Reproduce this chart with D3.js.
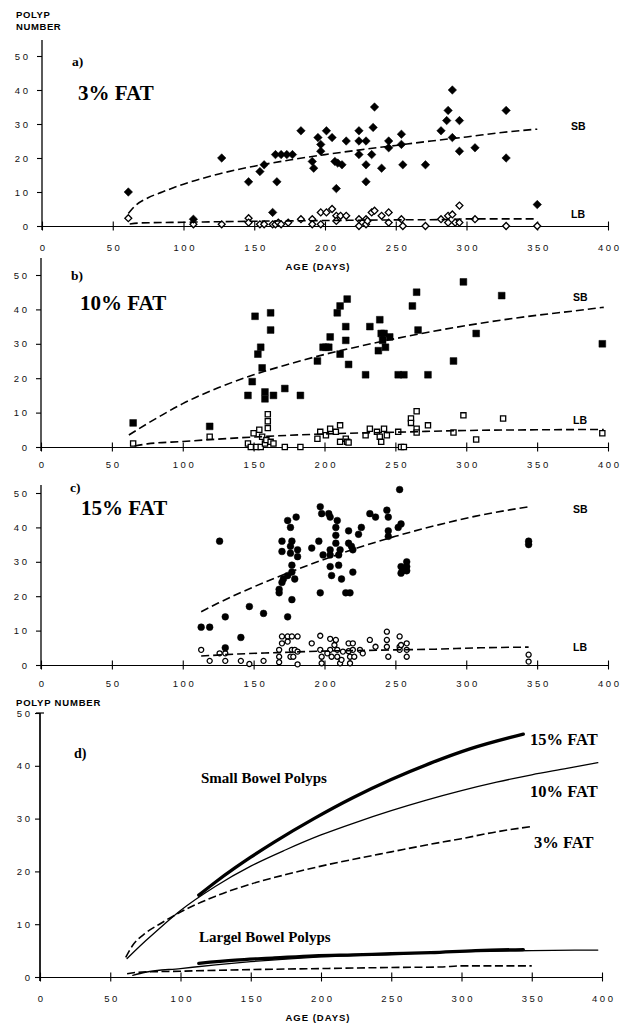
<!DOCTYPE html>
<html><head><meta charset="utf-8">
<script src="https://cdn.jsdelivr.net/npm/d3@7"></script>
<style>body{margin:0;background:#fff}svg{display:block}</style>
</head><body>
<script>
// ---------- data ----------
const xTicks=[0,50,100,150,200,250,300,350,400];
const yTicks=[0,10,20,30,40,50];

// panel a: 3% fat
const sbA=[[61,10],[107,2],[127,20],[146,13],[154,16],[157,18],[163,4],[165,21],[166,13],[169,21],[173,21],[177,21],[183,28],[191,19],[192,17],[195,26],[197,24],[197,22],[201,28],[205,26],[207,19],[208,11],[209,18.5],[212,18],[215,25],[224,28],[224,25],[224,21],[229,25],[229,18],[229,13],[233,21],[234,29],[235,35],[240,17],[245,25],[245,23],[254,27],[254,24],[255,18],[271,18],[282,28],[286,31],[287,34],[290,40],[290,26],[295,31],[295,22],[306,23],[328,34],[328,20],[350,6.3]];
const lbA=[[61,2.3],[107,0.5],[127,0.5],[146,2.3],[146,1],[154,0.5],[157,0.5],[163,0.5],[165,0.5],[167,1],[169,0.5],[174,1],[183,2],[191,2],[191,0.5],[197,4],[197,0.5],[201,4],[205,5],[208,3],[208,1.5],[211,3],[215,3],[224,2],[224,0],[229,2],[229,0.5],[230,1.5],[233,4],[235,4.5],[240,3],[245,4],[245,1],[254,2],[255,0],[271,0],[282,2],[287,3],[287,1],[290,3.4],[292,1],[295,6],[295,1],[306,2],[328,0],[350,0]];
const sbLine3=[[61,3.7],[66,6],[75,8.3],[85,10],[100,12.3],[125,15.3],[150,17.6],[175,19.4],[200,21],[225,22.4],[250,23.7],[275,25],[300,26.2],[325,27.5],[350,28.5]];
const lbLine3=[[62,0.6],[70,0.9],[100,1.1],[150,1.4],[200,1.6],[250,1.8],[285,1.9],[300,2.1],[350,2.1]];

// panel b: 10% fat
const sbB=[[65,7],[119,6],[146,15],[149,19],[151,38],[153,27],[155,29],[156,23],[158,16],[158,14],[162,39],[162,34],[164,15],[172,17],[183,15],[195,25],[199,29],[201,29],[203,29],[204,32],[209,39],[211,41],[211,27],[215,35],[215,31],[216,43],[217,24],[229,21],[232,35],[238,28],[239,37],[240,33],[241,31],[242,33],[243,29],[246,32],[252,21],[256,21],[262,41],[265,45],[266,34],[273,21],[291,25],[298,48],[307,33],[325,44],[396,30]];
const lbB=[[65,1],[119,3],[146,1],[148,0],[150,4],[152,0],[154,5],[155,0],[156,3],[158,1],[159,2],[160,9.5],[160,7.5],[160,5.5],[162,1.5],[164,1],[172,0],[183,0],[195,2.4],[197,4.4],[201,3.4],[204,5.3],[208,4.4],[211,6.3],[211,1.5],[215,2.4],[216,1.5],[217,1.3],[229,3.4],[232,5.3],[237,4.4],[239,3],[240,1.5],[242,5.3],[244,3.4],[252,4.4],[254,0],[256,0],[261,8.3],[261,7],[265,10.4],[265,5.3],[265,4.2],[273,6.3],[291,4.2],[298,9.2],[307,2.2],[326,8.3],[396,4]];
const sbLine10=[[62,3.5],[75,6.8],[85,9.2],[100,12.6],[125,17.2],[150,21],[175,24.1],[200,26.9],[225,29.3],[250,31.5],[275,33.5],[300,35.3],[325,36.9],[350,38.3],[375,39.5],[397,40.6]];
const lbLine10=[[66,0.3],[75,0.9],[100,1.6],[125,2.3],[150,2.9],[175,3.4],[200,3.8],[250,4.3],[300,4.8],[350,5],[397,5.1]];

// panel c: 15% fat
const sbC=[[113,11],[119,11],[126,36],[130,14],[130,5],[141,8],[147,17],[157,15],[168,22],[168,21],[170,24],[171,25],[170,36],[170,33],[174,42],[174,14],[174,26],[176,40],[177,36],[176,34.5],[176,32.5],[177,29],[177,27],[177,19],[180,43],[181,33.5],[181,31.5],[179,25],[191,34],[196,36],[197,46],[197,21],[198,44],[199,32],[203,44],[204,43],[204,33.5],[204,32],[204,28.6],[205,26],[208,40],[208,37.7],[209,42],[208,35.4],[210,32],[211,33.5],[210,29],[212,25],[217,39],[217,35.4],[218,21],[215,21],[220,27],[219,34.5],[220,33.5],[224,38],[226,40],[232,44],[236,43],[244,45],[245,43],[245,39],[245,37.4],[254,41],[253,51],[252,40],[254,28.6],[255,27.4],[258,30],[258,28.6],[258,27.4],[254,26.7],[344,36],[344,35]];
const lbC=[[113,4.4],[119,1.2],[126,3.4],[130,3.4],[130,1.2],[141,1.2],[147,0.3],[157,1.2],[168,4.4],[168,2.4],[168,0.8],[170,8.3],[170,6.3],[174,8.3],[174,6.8],[177,8.3],[177,4.4],[176,2.4],[179,4.4],[181,8.3],[181,3.9],[181,0.2],[178,2.4],[191,6.3],[197,8.5],[197,4.4],[198,2.4],[198,0.5],[204,7.6],[204,4.4],[205,2.4],[202,3.4],[208,7.3],[207,5.8],[209,4.4],[209,2.4],[211,0.5],[213,3.9],[212,1.5],[217,6.3],[217,4],[218,2.4],[218,0.5],[220,6.3],[220,4.4],[221,2.4],[225,4.4],[227,3.4],[232,7.3],[236,5.3],[244,9.7],[244,7.3],[244,5.3],[245,2.4],[253,8.3],[253,5.3],[253,4.4],[254,5.8],[258,6.3],[258,4.4],[258,2.4],[344,3],[344,1]];
const sbLine15=[[113,15.5],[125,18],[139,20.7],[150,22.7],[167,25.6],[195,30],[223,34],[250,37.4],[278,40.5],[306,43.2],[344,46]];
const lbLine15=[[113,2.6],[139,3.2],[167,3.6],[195,4],[223,4.2],[250,4.4],[278,4.6],[310,5],[344,5.2]];

// ---------- drawing ----------
const SANS='"Liberation Sans", Arial, sans-serif';
const SERIF='"Liberation Serif", "Times New Roman", serif';
const TLS=2.6; // tick label letter spacing
const svg=d3.select('body').append('svg').attr('width',621).attr('height',1023);

function txt(g,x,y,s,o){
  const t=g.append('text').attr('x',x).attr('y',y).text(s)
    .attr('font-family',o.serif?SERIF:SANS).attr('font-size',o.size)
    .attr('font-weight',o.bold?'bold':'normal').attr('fill','#000');
  if(o.ls) t.attr('letter-spacing',o.ls);
  if(o.anchor) t.attr('text-anchor',o.anchor);
  return t;
}

function panel(cfg){
  const x=d3.scaleLinear().domain([0,400]).range([cfg.x0,cfg.x1]);
  const y=d3.scaleLinear().domain([0,50]).range([cfg.y0,cfg.y1]);
  const g=svg.append('g');
  g.append('line').attr('x1',cfg.x0).attr('x2',cfg.x0).attr('y1',cfg.top).attr('y2',cfg.y0+4)
    .attr('stroke','#000').attr('stroke-width',cfg.yw||1.3);
  const xa=g.append('g').attr('transform',`translate(0,${cfg.y0})`)
    .call(d3.axisBottom(x).tickValues(xTicks).tickSize(4.5).tickSizeOuter(0).tickPadding(cfg.xpad).tickFormat(d3.format('d')));
  xa.select('.domain').attr('stroke','#000').attr('stroke-width',1.2);
  xa.selectAll('.tick line').attr('y1',-4.5).attr('y2',4.5).attr('stroke-width',1.1);
  xa.selectAll('text').attr('font-family',SANS).attr('font-size',9.5).attr('letter-spacing',TLS+'px')
    .attr('dx',TLS/2).attr('fill','#111');
  const ya=g.append('g').attr('transform',`translate(${cfg.x0},0)`)
    .call(d3.axisLeft(y).tickValues(yTicks).tickSize(5).tickSizeOuter(0).tickPadding(cfg.ypad));
  ya.select('.domain').remove();
  ya.selectAll('.tick line').attr('stroke-width',1.1);
  ya.selectAll('text').attr('font-family',SANS).attr('font-size',9.5).attr('letter-spacing',TLS+'px')
    .attr('dx',TLS).attr('fill','#111');
  return {g,x,y};
}

function line(p,data,opt){
  const gen=d3.line().x(d=>p.x(d[0])).y(d=>p.y(d[1])).curve(d3.curveMonotoneX);
  const path=p.g.append('path').datum(data).attr('d',gen).attr('fill','none')
    .attr('stroke','#000').attr('stroke-width',opt.w||1.6).attr('stroke-linecap','round');
  if(opt.dash) path.attr('stroke-dasharray',opt.dash).attr('stroke-linecap','butt');
}

function points(p,data,kind,filled){
  let sym,size,rot=0;
  if(kind==='diamond'){sym=d3.symbolSquare;size=filled?36:24;rot=45;}
  else if(kind==='square'){sym=d3.symbolSquare;size=filled?46:27;}
  else {sym=d3.symbolCircle;size=filled?36:20;}
  p.g.append('g').selectAll('path').data(data).join('path')
    .attr('transform',d=>`translate(${p.x(d[0])},${p.y(d[1])}) rotate(${rot})`)
    .attr('d',d3.symbol(sym,size))
    .attr('fill',filled?'#000':'#fff').attr('stroke','#000').attr('stroke-width',filled?0.5:1.3);
}

const DASH='8,4';
// ---- panel a ----
const pa=panel({x0:42,x1:608,y0:226,y1:56,top:40,xpad:14,ypad:9});
points(pa,lbA,'diamond',false);
points(pa,sbA,'diamond',true);
line(pa,sbLine3,{dash:DASH});
line(pa,lbLine3,{dash:DASH});
txt(svg,16,18,'POLYP',{size:9.5,bold:true,ls:'0.6px'});
txt(svg,16,30,'NUMBER',{size:9.5,bold:true,ls:'0.6px'});
txt(svg,72,66,'a)',{size:13.5,bold:true,serif:true});
txt(svg,78,100,'3% FAT',{size:21,bold:true,serif:true});
txt(svg,571,129.5,'SB',{size:10.5,bold:true});
txt(svg,571,218,'LB',{size:10.5,bold:true});
txt(svg,318,270,'AGE (DAYS)',{size:9.5,bold:true,anchor:'middle',ls:'1px'});

// ---- panel b ----
const pb=panel({x0:41,x1:608,y0:447,y1:275,top:258,xpad:9.5,ypad:9});
points(pb,lbB,'square',false);
points(pb,sbB,'square',true);
line(pb,sbLine10,{dash:DASH});
line(pb,lbLine10,{dash:DASH});
txt(svg,71,280,'b)',{size:13.5,bold:true,serif:true});
txt(svg,80,310,'10% FAT',{size:21,bold:true,serif:true});
txt(svg,573,301,'SB',{size:10.5,bold:true});
txt(svg,573,423.5,'LB',{size:10.5,bold:true});

// ---- panel c ----
const pc=panel({x0:41,x1:608,y0:665,y1:493,top:485,xpad:11,ypad:9});
points(pc,lbC,'circle',false);
points(pc,sbC,'circle',true);
line(pc,sbLine15,{dash:DASH});
line(pc,lbLine15,{dash:DASH});
txt(svg,70,492,'c)',{size:13.5,bold:true,serif:true});
txt(svg,81,515,'15% FAT',{size:21,bold:true,serif:true});
txt(svg,573,512.5,'SB',{size:10.5,bold:true});
txt(svg,573,650.5,'LB',{size:10.5,bold:true});

// ---- panel d ----
const pd=panel({x0:40,x1:602,y0:977,y1:713,top:713,xpad:14,ypad:5,yw:1.7});
pd.g.append('line').attr('x1',36).attr('x2',44).attr('y1',713).attr('y2',713).attr('stroke','#000').attr('stroke-width',1.2);
line(pd,sbLine15,{w:3.3});
line(pd,sbLine10,{w:1.3});
line(pd,sbLine3,{w:1.6,dash:'8,3.5'});
line(pd,lbLine15,{w:3.3});
line(pd,lbLine10,{w:1.3});
line(pd,lbLine3,{w:1.6,dash:'8,3.5'});
txt(svg,16,706,'POLYP NUMBER',{size:9.5,bold:true,ls:'0.8px'});
txt(svg,74,758,'d)',{size:14,bold:true,serif:true});
txt(svg,201,783,'Small Bowel Polyps',{size:15,bold:true,serif:true});
txt(svg,199,942,'Largel Bowel Polyps',{size:15,bold:true,serif:true});
txt(svg,530,745,'15% FAT',{size:16.5,bold:true,serif:true});
txt(svg,530,796.5,'10% FAT',{size:16.5,bold:true,serif:true});
txt(svg,534,848,'3% FAT',{size:16.5,bold:true,serif:true});
txt(svg,318,1021,'AGE (DAYS)',{size:9.5,bold:true,anchor:'middle',ls:'1px'});
</script>
</body></html>
